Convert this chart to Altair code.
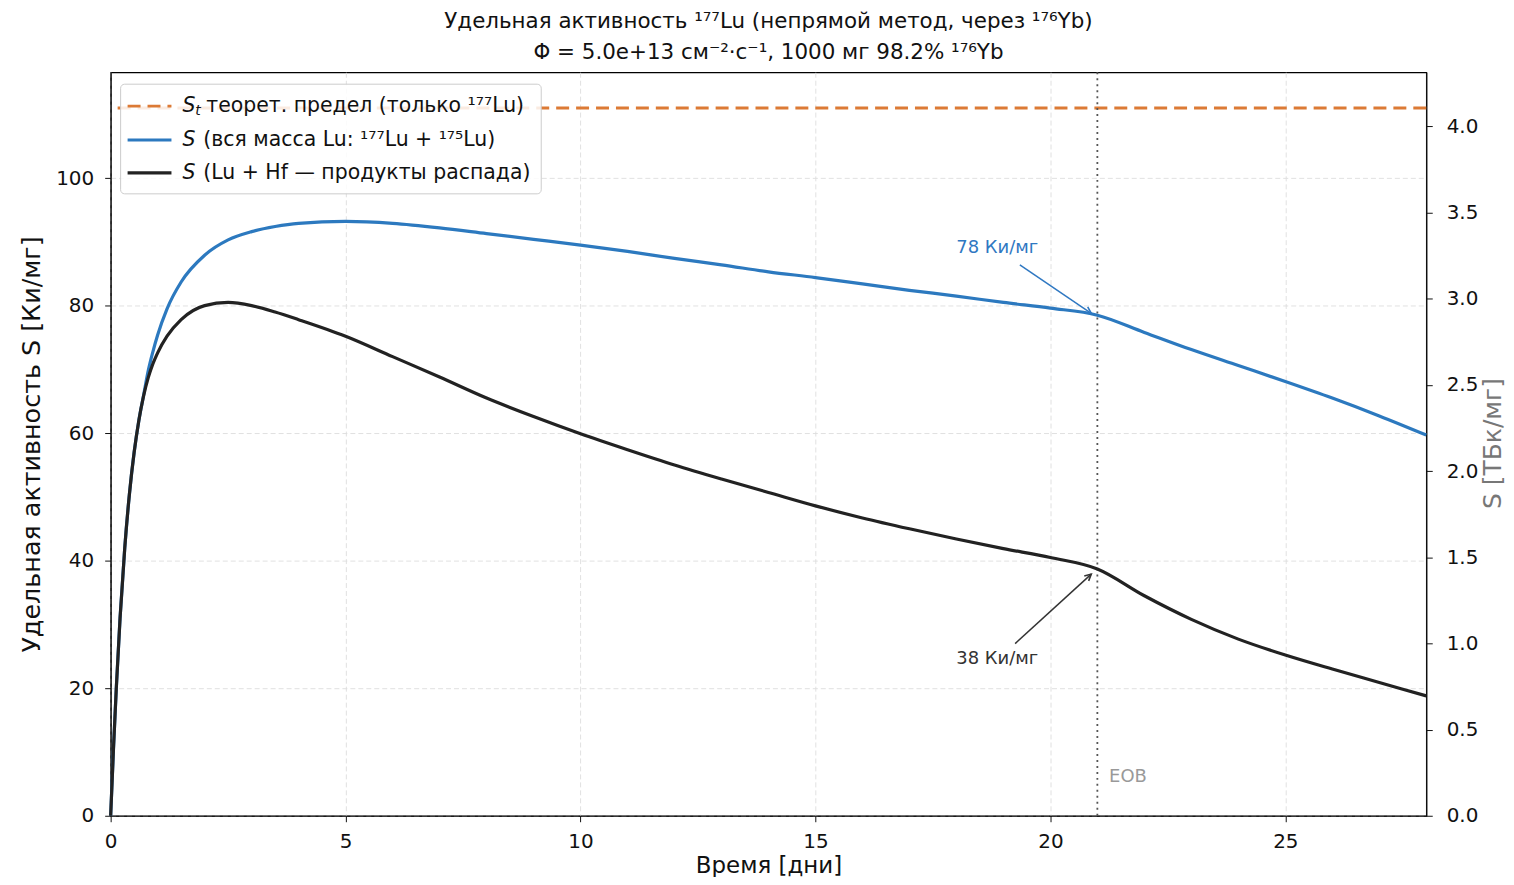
import math
import altair as alt
import pandas as pd

# ---------------- data ----------------
days = [0, 0.06, 0.12, 0.2, 0.3, 0.4, 0.5, 0.6, 0.7, 0.8, 0.9, 1.0, 1.2, 1.5,
        2.0, 2.5, 3.0, 3.5, 4.0, 5, 6, 7, 8, 9, 10, 11, 12, 13, 14, 15, 16,
        17, 18, 19, 20, 21, 22, 23, 24, 25, 26, 27, 28]
s_all_lu = [0, 10.5, 20, 31, 42, 50.5, 57, 62, 65.9, 69.8, 72.8, 75.4, 79.5, 83.7,
            87.9, 90.3, 91.6, 92.4, 92.9, 93.2, 92.9, 92.2, 91.3, 90.4, 89.5,
            88.5, 87.4, 86.4, 85.3, 84.4, 83.4, 82.4, 81.5, 80.5, 79.6, 78.5,
            75.8, 73.1, 70.6, 68.1, 65.5, 62.7, 59.7]
s_lu_hf = [0, 10.5, 20, 31, 42, 50.5, 57, 62, 65.8, 68.7, 70.9, 72.6, 75.2, 77.8,
           80, 80.5, 80.0, 79.0, 77.8, 75.2, 72.0, 68.8, 65.5, 62.6, 59.9,
           57.4, 55.0, 52.8, 50.7, 48.6, 46.7, 45.0, 43.4, 41.9, 40.5, 38.7,
           34.5, 30.8, 27.7, 25.2, 23.0, 20.9, 18.8]

S_THEOR = 111.0
T_EOB = 21
T_MAX = 28
Y_MAX = 116.6
CI_TO_TBQ = 0.037

x_ticks = [0, 5, 10, 15, 20, 25]
y_ticks = [0, 20, 40, 60, 80, 100]
y2_ticks = [0.0, 0.5, 1.0, 1.5, 2.0, 2.5, 3.0, 3.5, 4.0]

ann_labels = ["78 Ки/мг", "38 Ки/мг"]
ann_text_t = [18.87, 18.87]
ann_text_s = [89.0, 24.6]
ann_from_t = [19.35, 19.25]
ann_from_s = [86.4, 27.0]
ann_to_t = [20.87, 20.87]
ann_to_s = [78.8, 37.9]

eob_label = ["EOB"]
eob_label_t = [21.25]
eob_label_s = [6.1]

title_lines = ["Удельная активность ¹⁷⁷Lu (непрямой метод, через ¹⁷⁶Yb)",
               "Φ = 5.0e+13 см⁻²·с⁻¹, 1000 мг 98.2% ¹⁷⁶Yb"]
legend_rest = ["теорет. предел (только ¹⁷⁷Lu)",
               "(вся масса Lu: ¹⁷⁷Lu + ¹⁷⁵Lu)",
               "(Lu + Hf — продукты распада)"]

# ---------------- style ----------------
BLUE = "#2c79bf"
BLACK = "#222222"
ORANGE = "#dc7a35"
FONT = "DejaVu Sans"
W, H = 1320, 746

xs = alt.Scale(domain=[0, T_MAX], nice=False, zero=False)
ys = alt.Scale(domain=[0, Y_MAX], nice=False, zero=False)

df_blue = pd.DataFrame({"t": days, "S": s_all_lu})
df_black = pd.DataFrame({"t": days, "S": s_lu_hf})

x_enc = alt.X("t:Q", scale=xs, axis=alt.Axis(
    title="Время [дни]", values=x_ticks, grid=True, labelFlush=False,
    titlePadding=3, labelPadding=10, titleFontSize=23))
y_enc = alt.Y("S:Q", scale=ys, axis=alt.Axis(
    title="Удельная активность S [Ки/мг]", values=y_ticks, grid=True,
    titlePadding=11, labelPadding=11, titleFontSize=25.5))

blue_line = alt.Chart(df_blue).mark_line(
    color=BLUE, strokeWidth=3.2, interpolate="monotone").encode(x=x_enc, y=y_enc)
black_line = alt.Chart(df_black).mark_line(
    color=BLACK, strokeWidth=3.2, interpolate="monotone").encode(
    x=alt.X("t:Q", scale=xs), y=alt.Y("S:Q", scale=ys))

theor = alt.Chart(pd.DataFrame({"S": [S_THEOR]})).mark_rule(
    color=ORANGE, strokeWidth=3, strokeDash=[13, 7]).encode(
    y=alt.Y("S:Q", scale=ys))

eob = alt.Chart(pd.DataFrame({"t": [T_EOB]})).mark_rule(
    color="#555555", strokeWidth=1.8, strokeDash=[2, 4]).encode(
    x=alt.X("t:Q", scale=xs))

eob_txt = alt.Chart(pd.DataFrame({"t": eob_label_t, "S": eob_label_s,
                                  "lab": eob_label})).mark_text(
    align="left", baseline="middle", color="#999999", fontSize=18, font=FONT).encode(
    x=alt.X("t:Q", scale=xs), y=alt.Y("S:Q", scale=ys), text="lab:N")

px_t = W / T_MAX
px_s = H / Y_MAX
angles = [(math.degrees(math.atan2((b - a) * px_t, (d - c) * px_s)) + 360) % 360
          for a, b, c, d in zip(ann_from_t, ann_to_t, ann_from_s, ann_to_s)]
ann_df = pd.DataFrame({
    "lab": ann_labels, "tt": ann_text_t, "ts": ann_text_s,
    "ft": ann_from_t, "fs": ann_from_s, "et": ann_to_t, "es": ann_to_s,
    "ang": angles, "col": ["blue", "dark"]})
ann_color = alt.Color("col:N", scale=alt.Scale(domain=["blue", "dark"],
                                               range=["#2f78c2", "#333333"]),
                      legend=None)

ann_text = alt.Chart(ann_df).mark_text(
    fontSize=18, font=FONT, align="center", baseline="middle").encode(
    x=alt.X("tt:Q", scale=xs), y=alt.Y("ts:Q", scale=ys), text="lab:N",
    color=ann_color)
ann_arrow = alt.Chart(ann_df).mark_rule(strokeWidth=1.5).encode(
    x=alt.X("ft:Q", scale=xs), y=alt.Y("fs:Q", scale=ys),
    x2="et:Q", y2="es:Q", color=ann_color)
ann_head = alt.Chart(ann_df).mark_point(
    shape="M-0.5,1L0,0L0.5,1", filled=False, strokeWidth=1.6, size=170,
    opacity=1).encode(
    x=alt.X("et:Q", scale=xs), y=alt.Y("es:Q", scale=ys),
    angle=alt.Angle("ang:Q", scale=None), color=ann_color)

# ---------------- hand-made legend (pixel layout) ----------------
one = pd.DataFrame({"a": [0]})
leg_box = alt.Chart(one).mark_rect(
    fill="white", fillOpacity=0.85, stroke="#cccccc", strokeWidth=1,
    cornerRadius=4).encode(
    x=alt.value(10), x2=alt.value(432), y=alt.value(12), y2=alt.value(122))
row_y = [34, 68, 101]
leg_l1 = alt.Chart(one).mark_rule(color=ORANGE, strokeWidth=3, strokeDash=[13, 7]).encode(
    x=alt.value(17), x2=alt.value(61), y=alt.value(row_y[0]))
leg_l2 = alt.Chart(one).mark_rule(color=BLUE, strokeWidth=3.2).encode(
    x=alt.value(17), x2=alt.value(61), y=alt.value(row_y[1]))
leg_l3 = alt.Chart(one).mark_rule(color=BLACK, strokeWidth=3.2).encode(
    x=alt.value(17), x2=alt.value(61), y=alt.value(row_y[2]))

LEG_FS = 20.5
leg_texts = []
for i, ry in enumerate(row_y):
    leg_texts.append(alt.Chart(one).mark_text(
        font=FONT, fontSize=LEG_FS, fontStyle="italic", align="left",
        baseline="middle", color="#111111").encode(
        x=alt.value(72), y=alt.value(ry), text=alt.value("S")))
    leg_texts.append(alt.Chart(one).mark_text(
        font=FONT, fontSize=LEG_FS, align="left", baseline="middle",
        color="#111111").encode(
        x=alt.value(96 if i == 0 else 93), y=alt.value(ry),
        text=alt.value(legend_rest[i])))
leg_texts.append(alt.Chart(one).mark_text(
    font=FONT, fontSize=14, fontStyle="italic", align="left",
    baseline="middle", color="#111111").encode(
    x=alt.value(85), y=alt.value(row_y[0] + 5), text=alt.value("t")))

left = alt.layer(theor, eob, eob_txt, blue_line, black_line, ann_arrow,
                 ann_head, ann_text, leg_box, leg_l1, leg_l2, leg_l3,
                 *leg_texts)

right = alt.Chart(df_blue).transform_calculate(
    TBq=f"datum.S * {CI_TO_TBQ}").mark_line(opacity=0).encode(
    x=alt.X("t:Q", scale=xs),
    y=alt.Y("TBq:Q", scale=alt.Scale(domain=[0, Y_MAX * CI_TO_TBQ], nice=False,
                                     zero=False),
            axis=alt.Axis(orient="right", title="S [ТБк/мг]", values=y2_ticks,
                          format=".1f", grid=False, titleColor="#777777",
                          titleAngle=270, titleX=66, titleY=H / 2 - 1,
                          titleAlign="center", titleBaseline="middle",
                          titleFontSize=25, labelPadding=14)))

chart = alt.layer(left, right).resolve_scale(y="independent").properties(
    width=W, height=H,
    autosize=alt.AutoSizeParams(type="none"),
    padding={"left": 103, "top": 63, "right": 80, "bottom": 60},
    background="white",
    title=alt.TitleParams(text=title_lines, fontSize=21.5, fontWeight="normal",
                          font=FONT, color="#111111", anchor="middle",
                          offset=8, lineHeight=31),
).configure_view(
    stroke="black", strokeWidth=1.2
).configure_axis(
    labelFont=FONT, labelFontSize=20, labelColor="#111111",
    titleFont=FONT, titleFontSize=22, titleFontWeight="normal",
    titleColor="#111111", tickColor="#111111", tickSize=6, tickWidth=1,
    domainColor="#111111", domainWidth=1.2, gridColor="#dddddd",
    gridDash=[5, 3], gridWidth=0.9, labelOverlap=False
)

chart.save("out.html", embed_options={"renderer": "svg", "actions": False})
